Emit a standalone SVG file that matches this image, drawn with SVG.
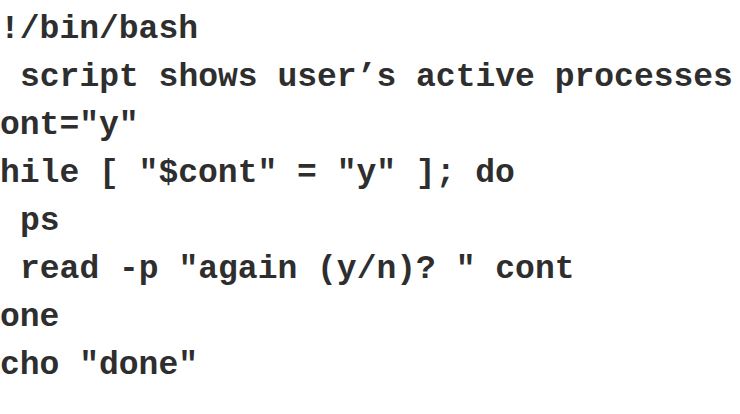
<svg xmlns="http://www.w3.org/2000/svg" width="740" height="414" viewBox="0 0 740 414">
<style>
.c{font-family:"Liberation Mono","Courier New",monospace;font-weight:bold;font-size:33px;fill:#2e2e2e;white-space:pre}
</style>
<rect width="740" height="414" fill="#fff"/>
<g id="code">
<text class="c" x="0" y="38">!/bin/bash</text>
<text class="c" x="20" y="86">script shows user’s active processes</text>
<text class="c" x="0" y="134">ont="y"</text>
<text class="c" x="0" y="182">hile [ "$cont" = "y" ]; do</text>
<text class="c" x="20" y="230">ps</text>
<text class="c" x="20" y="278">read -p "again (y/n)? " cont</text>
<text class="c" x="0" y="326">one</text>
<text class="c" x="0" y="374">cho "done"</text>
</g>
</svg>
